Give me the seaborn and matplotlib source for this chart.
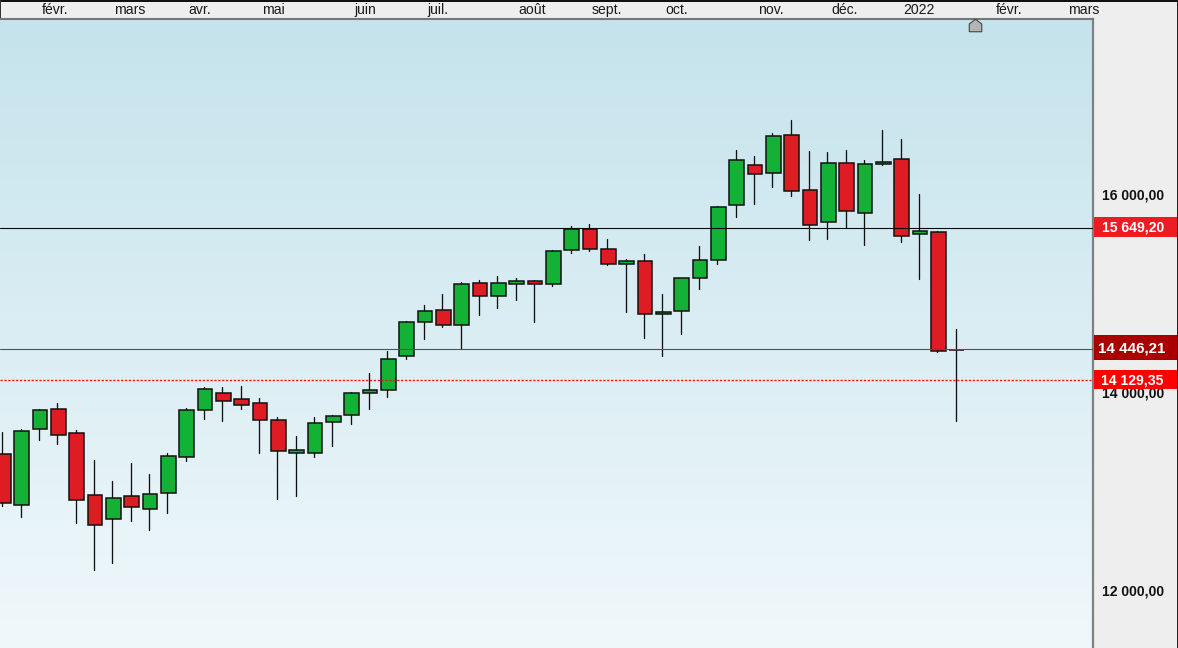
import numpy as np
import pandas as pd
import matplotlib
matplotlib.use("Agg")
import matplotlib.pyplot as plt
from matplotlib.patches import Rectangle
from matplotlib.colors import LinearSegmentedColormap
from matplotlib.transforms import ScaledTranslation
import seaborn as sns

# Weekly candles (index points)
opens = [13386, 12867, 13635, 13841, 13598, 12972, 12725, 12962, 12826, 12988,
         13352, 13826, 14002, 13942, 13901, 13730, 13392, 13392, 13705, 13776,
         13998, 14028, 14372, 14715, 14841, 14685, 15113, 14978, 15099, 15134,
         15099, 15443, 15659, 15457, 15301, 15336, 14796, 14826, 15160, 15342,
         15897, 16305, 16220, 16608, 16053, 15725, 16325, 15816, 16311, 16366,
         15604, 15629, 14440]
highs = [13611, 13639, 13844, 13904, 13628, 13328, 13116, 13298, 13187, 13399,
         13854, 14066, 14066, 14076, 13955, 13763, 13571, 13763, 13783, 14015,
         14207, 14430, 14733, 14894, 15005, 15126, 15147, 15187, 15167, 15147,
         15450, 15692, 15712, 15561, 15359, 15409, 15005, 15167, 15490, 15894,
         16460, 16399, 16632, 16763, 16450, 16440, 16460, 16359, 16662, 16571,
         16015, 15642, 14652]
lows = [12857, 12746, 13531, 13483, 12685, 12217, 12288, 12712, 12621, 12793,
        13318, 13743, 13722, 13844, 13399, 12935, 12965, 13359, 13470, 13692,
        13844, 13965, 14349, 14551, 14672, 14450, 14793, 14864, 14945, 14722,
        15086, 15419, 15440, 15298, 14823, 14561, 14379, 14601, 15056, 15308,
        15783, 15914, 16086, 15995, 15551, 15561, 15672, 15500, 16308, 15531,
        15157, 14419, 13722]
closes = [12887, 13618, 13831, 13574, 12917, 12665, 12942, 12847, 12982, 13366,
          13831, 14043, 13917, 13877, 13725, 13412, 13426, 13699, 13770, 14002,
          14033, 14346, 14720, 14831, 14685, 15103, 14978, 15113, 15134, 15099,
          15437, 15659, 15453, 15301, 15336, 14796, 14820, 15164, 15346, 15881,
          16356, 16210, 16598, 16039, 15695, 16325, 15837, 16315, 16336, 15584,
          15639, 14423, 14440]

month_labels = ["févr.", "mars", "avr.", "mai", "juin", "juil.", "août", "sept.",
                "oct.", "nov.", "déc.", "2022", "févr.", "mars"]
month_pos = [2.86, 6.96, 10.78, 14.78, 19.80, 23.74, 28.92, 33.00,
             36.80, 41.90, 45.92, 50.02, 54.92, 59.00]
price_ticks = [16000, 14000, 12000]
price_tick_labels = ["16 000,00", "14 000,00", "12 000,00"]
level_prev_close = 15668          # where the black line sits in the picture
level_last = 14446.21
level_dotted = 14129.35
marker_week = 53.03
marker_price = 17718

W, H = 1178, 648
sns.set_theme(style="white")
plt.rcParams["font.family"] = ["Liberation Sans", "DejaVu Sans"]
PANEL = "#eeeeee"
GREEN, RED, INK = "#13b135", "#df1b24", "#111111"
XLIM = (-0.136, 59.49)
YLIM = (11427, 17780)
BODY_SHIFT = 0.05   # bodies sit slightly right of their wicks in the picture

fig = plt.figure(figsize=(W / 100, H / 100), dpi=100, facecolor=PANEL)
ax = fig.add_axes([0, 0, 1093 / W, (H - 19) / H])
ax.set_facecolor("#e0f0f4")

# background gradient
cmap = LinearSegmentedColormap.from_list("bg", ["#c5e3ec", "#f0f8fb"])
ax.imshow(np.linspace(0, 1, 256).reshape(-1, 1), cmap=cmap, aspect="auto",
          extent=(0, 1, 0, 1), transform=ax.transAxes, zorder=0)
ax.set_xlim(*XLIM)
ax.set_ylim(*YLIM)

df = pd.DataFrame({"open": opens, "high": highs, "low": lows, "close": closes})
df["week"] = np.arange(len(df))

# wicks
wicks = df.melt(id_vars="week", value_vars=["high", "low"], value_name="price")
wicks = wicks.sort_values(["week", "variable"])
sns.lineplot(data=wicks, x="week", y="price", units="week", estimator=None,
             color=INK, linewidth=0.95, sort=False, legend=False, ax=ax, zorder=2)
ax.set_xlabel("")
ax.set_ylabel("")

# bodies
colors = [GREEN if c > o else RED for o, c in zip(opens, closes)]
bottoms = np.minimum(opens, closes)
heights = np.abs(df["close"].values - df["open"].values)
ax.bar(df["week"] + BODY_SHIFT, heights, bottom=bottoms, width=0.81, color=colors,
       edgecolor=INK, linewidth=1.1, zorder=3)

# horizontal levels
ax.axhline(level_prev_close, color="#0a0a0a", lw=0.8, zorder=4)
ax.axhline(level_last, color="#c4202a", lw=0.8, zorder=4)
ax.plot(XLIM, [level_dotted, level_dotted], color="#ff1010", lw=1.0,
        ls=(0, (1.6, 1.2)), zorder=4, scalex=False, scaley=False)

# house marker
house = [(-1, -1), (-1, 0.25), (0, 1), (1, 0.25), (1, -1), (-1, -1)]
ax.plot([marker_week], [marker_price], marker=house, ms=9.0, mfc="#b4b4b4",
        mec="#444444", mew=0.8, clip_on=False, zorder=6, ls="none")

# axes furniture
ax.xaxis.tick_top()
ax.set_xticks(month_pos, month_labels)
ax.yaxis.tick_right()
ax.set_yticks(price_ticks, price_tick_labels)
ax.set_xlim(*XLIM)
ax.set_ylim(*YLIM)
ax.tick_params(axis="x", length=0, pad=1.6, labelsize=10.1, labelcolor="#1a1a1a")
ax.tick_params(axis="y", length=0, pad=6.7, labelsize=10.1, labelcolor="#111111")
nudge = ScaledTranslation(0, 1.5 / 100, fig.dpi_scale_trans)
for t in ax.get_yticklabels():
    t.set_fontweight("bold")
    t.set_transform(t.get_transform() + nudge)
ax.grid(False)
for s in ("left", "bottom"):
    ax.spines[s].set_visible(False)
ax.spines["top"].set_color("#777777")
ax.spines["top"].set_linewidth(1.5)
ax.spines["right"].set_color("#808080")
ax.spines["right"].set_linewidth(1.6)


def fx(px):
    return px / W


def fy(px):
    return 1 - px / H


def box(x0, y0, x1, y1, color):
    fig.add_artist(Rectangle((fx(x0), fy(y1)), fx(x1) - fx(x0), fy(y0) - fy(y1),
                             transform=fig.transFigure, fc=color, ec="none", zorder=5))


# value tags on the right
box(1094, 217, 1177, 237, "#ed1c24")
box(1094, 335, 1177, 360, "#a80000")
box(1094, 370, 1177, 389, "#ff0000")
fig.text(fx(1102), fy(227.5), "15 649,20", color="white", fontsize=10.1,
         fontweight="bold", va="center", ha="left", zorder=6)
fig.text(fx(1098), fy(348.5), "14 446,21", color="white", fontsize=10.9,
         fontweight="bold", va="center", ha="left", zorder=6)
fig.text(fx(1101), fy(380), "14 129,35", color="white", fontsize=10.1,
         fontweight="bold", va="center", ha="left", zorder=6)

# outer frame lines
box(0, 0, W, 1.5, "#111111")
box(0, 0, 1, 18, "#333333")
box(1177, 0, W, H, "#222222")

fig.savefig("out.png", dpi=100, facecolor=PANEL)
